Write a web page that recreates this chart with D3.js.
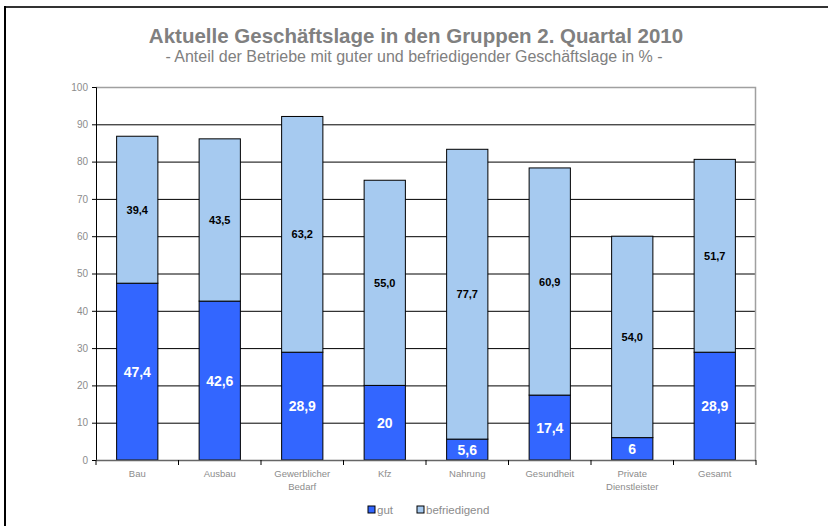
<!DOCTYPE html>
<html>
<head>
<meta charset="utf-8">
<script src="https://cdn.jsdelivr.net/npm/d3@7"></script>
<style>
  body { margin: 0; background: #fff; }
  svg, svg text { font-family: "Liberation Sans", Arial, sans-serif; }
</style>
</head>
<body>
<div id="chart"></div>
<script>
const categories = [["Bau"], ["Ausbau"], ["Gewerblicher", "Bedarf"], ["Kfz"], ["Nahrung"], ["Gesundheit"], ["Private", "Dienstleister"], ["Gesamt"]];
const gut = [47.4, 42.6, 28.9, 20, 5.6, 17.4, 6, 28.9];
const befriedigend = [39.4, 43.5, 63.2, 55.0, 77.7, 60.9, 54.0, 51.7];
const gutLabels = ["47,4", "42,6", "28,9", "20", "5,6", "17,4", "6", "28,9"];
const befLabels = ["39,4", "43,5", "63,2", "55,0", "77,7", "60,9", "54,0", "51,7"];
const yTicks = [0, 10, 20, 30, 40, 50, 60, 70, 80, 90, 100];

const W = 828, H = 526;
const margin = { top: 87, right: 72, bottom: 66, left: 96 };
const width = W - margin.left - margin.right;
const height = H - margin.top - margin.bottom;

const svg = d3.select("#chart").append("svg")
    .attr("width", W)
    .attr("height", H);

// outer frame (top + left edges)
svg.append("line").attr("x1", 5).attr("x2", W).attr("y1", 7).attr("y2", 7)
    .attr("stroke", "#333").attr("stroke-width", 2);
svg.append("line").attr("x1", 5).attr("x2", 5).attr("y1", 6).attr("y2", H)
    .attr("stroke", "#000").attr("stroke-width", 2);

svg.append("text")
    .attr("x", 416).attr("y", 43)
    .attr("text-anchor", "middle")
    .attr("font-size", 20.5).attr("font-weight", "bold")
    .attr("fill", "#808080")
    .text("Aktuelle Geschäftslage in den Gruppen 2. Quartal 2010");
svg.append("text")
    .attr("x", 414).attr("y", 62)
    .attr("text-anchor", "middle")
    .attr("font-size", 16)
    .attr("fill", "#808080")
    .text("- Anteil der Betriebe mit guter und befriedigender Geschäftslage in % -");

const g = svg.append("g").attr("transform", `translate(${margin.left},${margin.top})`);

const x = d3.scaleBand()
    .domain(d3.range(categories.length))
    .range([0, width])
    .paddingInner(0.5)
    .paddingOuter(0.25);
const y = d3.scaleLinear().domain([0, 100]).range([height, 0]);

// gridlines
g.selectAll(".grid")
    .data(yTicks.filter(t => t > 0 && t < 100))
    .enter().append("line")
    .attr("x1", 0).attr("x2", width)
    .attr("y1", d => y(d) + 0.5).attr("y2", d => y(d) + 0.5)
    .attr("stroke", "#000");

// plot border top/right
g.append("path")
    .attr("d", `M0,0.5H${width - 0.5}V${height}`)
    .attr("fill", "none").attr("stroke", "#a0a0a0").attr("stroke-width", 1.5);

// bars
const bars = g.selectAll(".bar").data(categories).enter().append("g");
bars.append("rect")
    .attr("x", (d, i) => x(i))
    .attr("width", x.bandwidth())
    .attr("y", (d, i) => y(gut[i]))
    .attr("height", (d, i) => y(0) - y(gut[i]))
    .attr("fill", "#3366ff").attr("stroke", "#000").attr("stroke-width", 1);
bars.append("rect")
    .attr("x", (d, i) => x(i))
    .attr("width", x.bandwidth())
    .attr("y", (d, i) => y(gut[i] + befriedigend[i]))
    .attr("height", (d, i) => y(gut[i]) - y(gut[i] + befriedigend[i]))
    .attr("fill", "#a6caf0").attr("stroke", "#000").attr("stroke-width", 1);

bars.append("text")
    .attr("x", (d, i) => x(i) + x.bandwidth() / 2)
    .attr("y", (d, i) => y(gut[i] / 2) + 5)
    .attr("text-anchor", "middle")
    .attr("font-size", 14).attr("font-weight", "bold").attr("fill", "#fff")
    .text((d, i) => gutLabels[i]);
bars.append("text")
    .attr("x", (d, i) => x(i) + x.bandwidth() / 2)
    .attr("y", (d, i) => y(gut[i] + befriedigend[i] / 2) + 4)
    .attr("text-anchor", "middle")
    .attr("font-size", 11).attr("font-weight", "bold").attr("fill", "#000")
    .text((d, i) => befLabels[i]);

// y axis
const yAxis = g.append("g").call(d3.axisLeft(y).tickValues(yTicks).tickSize(4).tickPadding(4));
yAxis.select(".domain").attr("stroke", "#000");
yAxis.selectAll(".tick line").attr("stroke", "#000");
yAxis.selectAll("text").attr("fill", "#8c8c8c").attr("font-size", 10)
    .attr("font-family", "'Liberation Sans', Arial, sans-serif");

// x axis
const xa = g.append("g").attr("transform", `translate(0,${height})`);
xa.append("line").attr("x1", 0).attr("x2", width).attr("y1", 0.5).attr("y2", 0.5)
    .attr("stroke", "#666").attr("stroke-width", 1.5);
xa.selectAll(".xt").data(d3.range(categories.length + 1)).enter().append("line")
    .attr("x1", i => i * x.step()).attr("x2", i => i * x.step())
    .attr("y1", 0).attr("y2", 5)
    .attr("stroke", "#000");
const xl = xa.selectAll(".xl").data(categories).enter().append("text")
    .attr("x", (d, i) => x(i) + x.bandwidth() / 2)
    .attr("y", 17)
    .attr("text-anchor", "middle")
    .attr("font-size", 9.5).attr("fill", "#8c8c8c");
xl.selectAll("tspan").data(d => d).enter().append("tspan")
    .attr("x", function () { return this.parentNode.getAttribute("x"); })
    .attr("dy", (d, j) => j === 0 ? 0 : 13)
    .text(d => d);

// legend
const legend = [["gut", "#3366ff", 368], ["befriedigend", "#a6caf0", 417]];
const lg = svg.selectAll(".lg").data(legend).enter().append("g");
lg.append("rect")
    .attr("x", d => d[2]).attr("y", 506)
    .attr("width", 7).attr("height", 7)
    .attr("fill", d => d[1]).attr("stroke", "#000");
lg.append("text")
    .attr("x", d => d[2] + 9).attr("y", 514)
    .attr("font-size", 11.5).attr("fill", "#8c8c8c")
    .text(d => d[0]);
</script>
</body>
</html>
